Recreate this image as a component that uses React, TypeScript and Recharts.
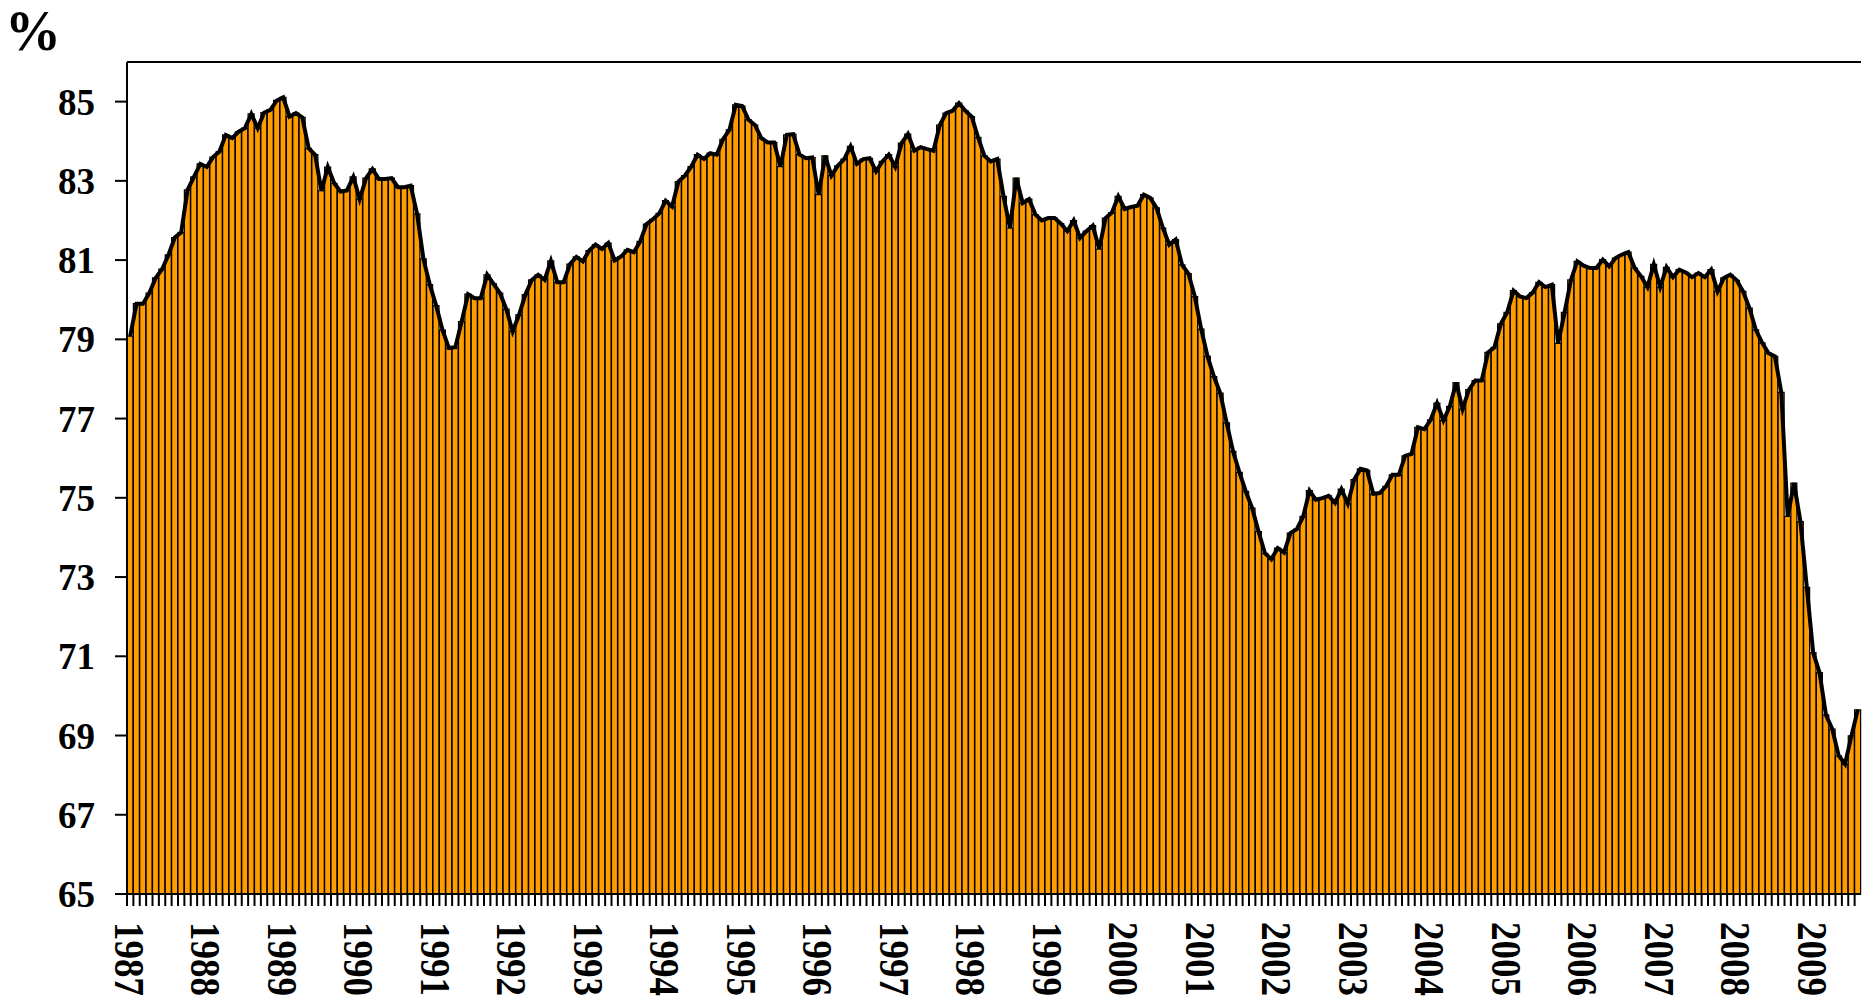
import React from 'react';
import { ComposedChart, Bar, Line, XAxis, YAxis, ReferenceLine } from 'recharts';

// capacity utilization, monthly, Jan 1987 - Aug 2009 (%)
const years = [
  1987, 1988, 1989, 1990, 1991, 1992, 1993, 1994, 1995, 1996, 1997, 1998,
  1999, 2000, 2001, 2002, 2003, 2004, 2005, 2006, 2007, 2008, 2009,
];

const v1987 = [79.08, 79.9, 79.9, 80.17, 80.55, 80.77, 81.13, 81.57, 81.7, 82.77, 83.1, 83.43];
const v1988 = [83.35, 83.6, 83.74, 84.16, 84.08, 84.24, 84.33, 84.69, 84.33, 84.72, 84.79, 85.03];
const v1989 = [85.11, 84.62, 84.71, 84.6, 83.82, 83.66, 82.75, 83.35, 82.94, 82.73, 82.76, 83.1];
const v1990 = [82.54, 83.07, 83.3, 83.05, 83.05, 83.07, 82.84, 82.84, 82.88, 82.17, 81.03, 80.38];
const v1991 = [79.85, 79.23, 78.78, 78.8, 79.45, 80.14, 80.04, 80.04, 80.63, 80.4, 80.17, 79.76];
const v1992 = [79.2, 79.62, 80.13, 80.5, 80.63, 80.5, 80.98, 80.44, 80.44, 80.9, 81.08, 80.97];
const v1993 = [81.24, 81.39, 81.28, 81.43, 80.99, 81.09, 81.26, 81.2, 81.47, 81.91, 82.03, 82.18];
const v1994 = [82.5, 82.35, 82.98, 83.13, 83.36, 83.66, 83.55, 83.7, 83.66, 84.05, 84.29, 84.92];
const v1995 = [84.89, 84.54, 84.41, 84.08, 83.97, 83.97, 83.36, 84.16, 84.18, 83.66, 83.57, 83.59];
const v1996 = [82.65, 83.63, 83.13, 83.38, 83.55, 83.87, 83.43, 83.55, 83.57, 83.24, 83.49, 83.66];
const v1997 = [83.36, 83.95, 84.18, 83.76, 83.85, 83.8, 83.76, 84.41, 84.71, 84.77, 84.96, 84.77];
const v1998 = [84.62, 84.1, 83.63, 83.49, 83.55, 82.61, 81.81, 83.07, 82.44, 82.54, 82.15, 82.0];
const v1999 = [82.06, 82.06, 81.92, 81.73, 82.0, 81.56, 81.73, 81.87, 81.28, 82.06, 82.2, 82.61];
const v2000 = [82.29, 82.34, 82.37, 82.65, 82.57, 82.32, 81.81, 81.39, 81.52, 80.88, 80.66, 80.08];
const v2001 = [79.26, 78.57, 78.06, 77.64, 76.89, 76.17, 75.64, 75.16, 74.74, 74.15, 73.6, 73.45];
const v2002 = [73.73, 73.62, 74.11, 74.21, 74.53, 75.18, 74.95, 74.99, 75.05, 74.87, 75.22, 74.85];
const v2003 = [75.46, 75.73, 75.69, 75.1, 75.12, 75.29, 75.58, 75.58, 76.06, 76.11, 76.78, 76.73];
const v2004 = [76.97, 77.39, 76.95, 77.31, 77.91, 77.24, 77.73, 77.96, 77.96, 78.67, 78.8, 79.39];
const v2005 = [79.68, 80.23, 80.08, 80.04, 80.18, 80.44, 80.32, 80.38, 78.9, 79.68, 80.5, 80.97];
const v2006 = [80.86, 80.8, 80.8, 81.01, 80.84, 81.05, 81.14, 81.2, 80.8, 80.59, 80.32, 80.89];
const v2007 = [80.32, 80.82, 80.57, 80.76, 80.69, 80.57, 80.67, 80.57, 80.76, 80.21, 80.55, 80.63];
const v2008 = [80.49, 80.21, 79.79, 79.24, 78.91, 78.65, 78.57, 77.66, 74.53, 75.37, 74.4, 72.74];
const v2009 = [71.09, 70.59, 69.52, 69.16, 68.49, 68.28, 68.99, 69.65];

const yearValues = [
  v1987, v1988, v1989, v1990, v1991, v1992, v1993, v1994, v1995, v1996, v1997, v1998,
  v1999, v2000, v2001, v2002, v2003, v2004, v2005, v2006, v2007, v2008, v2009,
];

const yTicks = [65, 67, 69, 71, 73, 75, 77, 79, 81, 83, 85];

const data = years.flatMap((yr, yi) =>
  yearValues[yi].map((v, m) => ({
    month: `${yr}-${String(m + 1).padStart(2, '0')}`,
    value: v,
  }))
);

const CHART_W = 1870;
const CHART_H = 1000;
const Y_AXIS_W = 127;
const RIGHT = 9;
const BAND = (CHART_W - Y_AXIS_W - RIGHT) / data.length;
const FONT = '"Liberation Serif", "Times New Roman", serif';

const MonthTick = (props: any) => {
  const { x, y, payload } = props;
  const left = x - BAND / 2;
  const [yr, mo] = String(payload.value).split('-');
  return (
    <g>
      <line x1={left} x2={left} y1={y} y2={y + 12} stroke="#000" strokeWidth={2} />
      {mo === '01' && (
        <text
          transform={`translate(${left}, ${y + 28}) rotate(90) scale(1, 1.12)`}
          dy="0.3em"
          fontFamily={FONT}
          fontWeight="bold"
          fontSize={37}
          fill="#000"
        >
          {yr}
        </text>
      )}
    </g>
  );
};

export default function App() {
  return (
    <div
      style={{
        position: 'fixed',
        left: 0,
        top: 0,
        width: 1862,
        height: 1000,
        overflow: 'hidden',
        background: '#fff',
      }}
    >
      <svg width={100} height={90} style={{ position: 'absolute', left: 0, top: 0, zIndex: 2 }}>
        <text x={5} y={50} fontFamily={FONT} fontWeight="bold" fontSize={56} fill="#000">
          %
        </text>
      </svg>
      <ComposedChart
        width={CHART_W}
        height={CHART_H}
        data={data}
        margin={{ top: 62, right: RIGHT, bottom: 0, left: 0 }}
        barCategoryGap={0}
        barGap={0}
      >
        <XAxis
          dataKey="month"
          interval={0}
          height={106}
          tickLine={false}
          tickSize={0}
          tickMargin={0}
          axisLine={{ stroke: '#000', strokeWidth: 2 }}
          tick={<MonthTick />}
        />
        <YAxis
          width={Y_AXIS_W}
          domain={[65, 86]}
          ticks={yTicks}
          tickSize={12}
          tickMargin={20}
          axisLine={{ stroke: '#000', strokeWidth: 2 }}
          tickLine={{ stroke: '#000', strokeWidth: 2 }}
          tick={{ fill: '#000', fontSize: 37, fontFamily: FONT, fontWeight: 'bold' }}
        />
        <ReferenceLine y={86} stroke="#000" strokeWidth={2} />
        <Bar dataKey="value" fill="#FF9C00" stroke="#000" strokeWidth={1.2} isAnimationActive={false} />
        <Line
          dataKey="value"
          type="linear"
          stroke="#000"
          strokeWidth={4}
          dot={false}
          activeDot={false}
          isAnimationActive={false}
        />
      </ComposedChart>
    </div>
  );
}
